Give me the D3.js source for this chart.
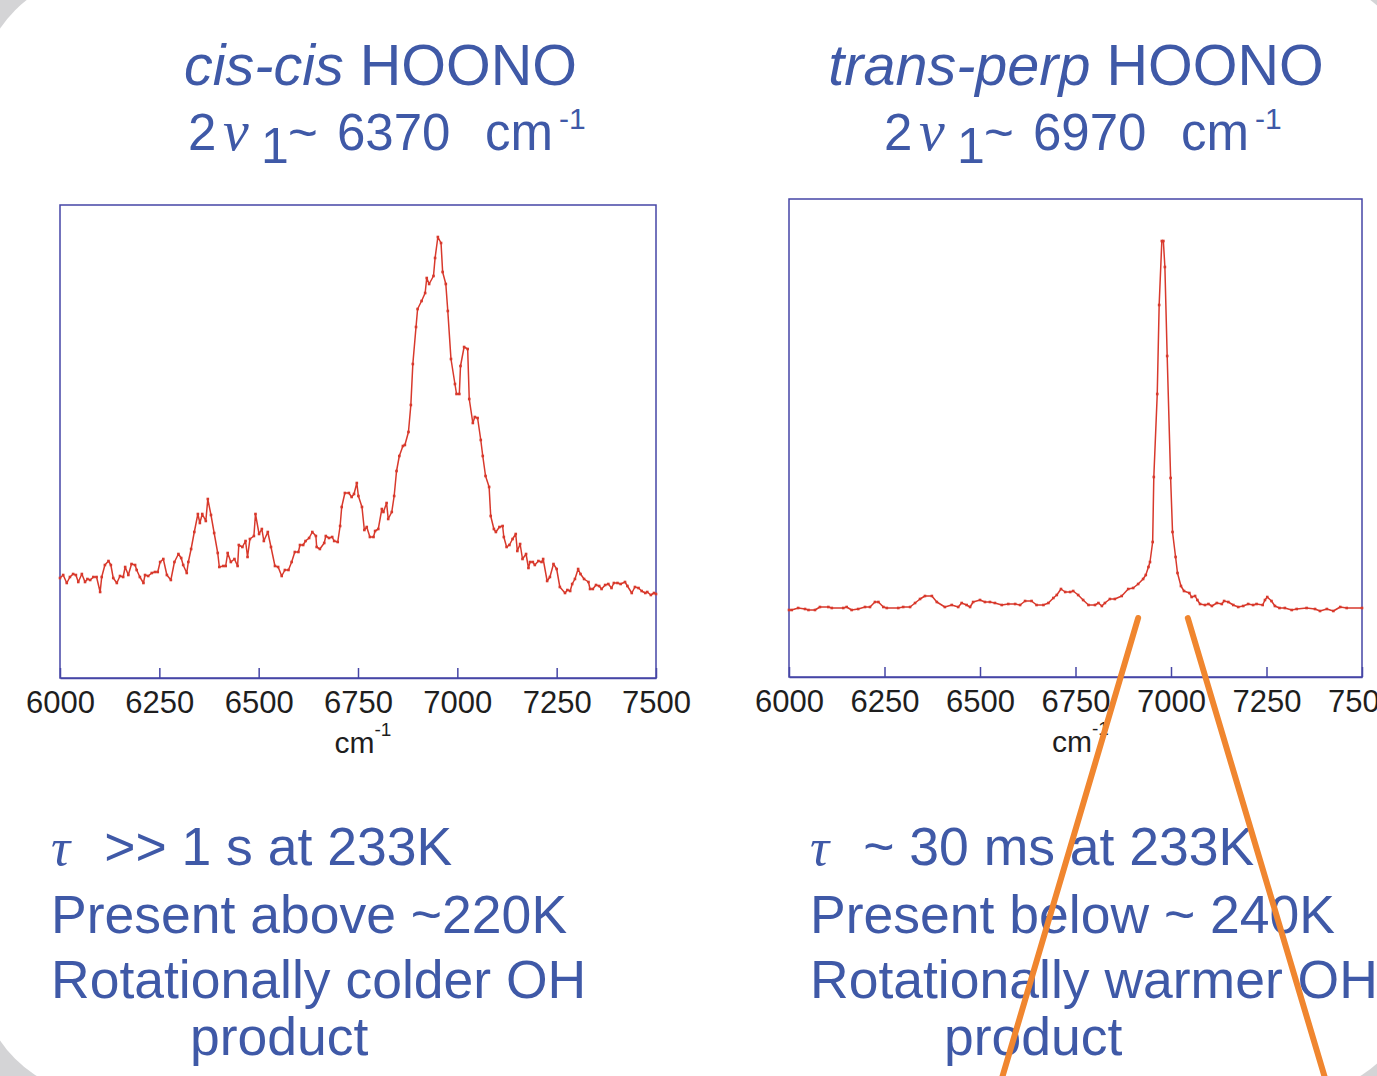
<!DOCTYPE html>
<html>
<head>
<meta charset="utf-8">
<script src="https://cdn.jsdelivr.net/npm/d3@7"></script>
<style>
    html, body { margin: 0; padding: 0; background: #d4d4d6; overflow: hidden; }
    svg { display: block; }
</style>
</head>
<body>
<div id="slide"></div>
<script>
// cis-cis HOONO spectrum (cm-1, arbitrary intensity)
const cisWavenumber = [6000,6008,6017,6025,6033,6040,6046,6055,6063,6069,6076,6084,6092,6101,6105,6113,6122,6128,6134,6143,
    6151,6159,6164,6172,6180,6189,6193,6201,6210,6214,6222,6231,6239,6246,6252,6260,6269,6279,6288,6298,
    6305,6310,6319,6323,6330,6338,6347,6352,6358,6367,6372,6380,6388,6397,6401,6411,6417,6422,6430,6439,
    6447,6450,6459,6467,6472,6478,6488,6492,6501,6508,6513,6523,6531,6541,6549,6558,6566,6575,6583,6591,
    6600,6604,6612,6618,6627,6635,6644,6646,6654,6665,6669,6677,6685,6690,6699,6705,6709,6717,6727,6734,
    6740,6747,6751,6760,6766,6772,6780,6789,6793,6801,6810,6814,6822,6826,6835,6841,6847,6854,6863,6868,
    6877,6883,6888,6896,6900,6910,6919,6923,6929,6940,6944,6951,6959,6963,6971,6976,6984,6994,6998,7005,
    7008,7017,7026,7030,7039,7044,7051,7059,7064,7071,7080,7084,7092,7097,7106,7114,7117,7124,7131,7139,
    7147,7151,7158,7164,7173,7179,7183,7190,7195,7204,7212,7216,7226,7233,7242,7250,7258,7271,7277,7284,
    7289,7296,7304,7310,7319,7330,7334,7341,7349,7357,7363,7372,7380,7388,7394,7403,7411,7422,7428,7439,
    7447,7456,7464,7473,7478,7487,7495,7500];
const cisIntensity = [100,103,95,101,104,103,96,104,96,99,98,101,101,86,101,113,117,113,100,95,
    102,101,111,103,114,113,108,101,95,103,102,105,106,106,116,119,103,98,116,124,
    120,113,105,116,129,146,164,155,164,157,179,163,145,125,111,112,112,125,116,119,
    112,133,131,137,121,139,142,164,144,149,137,146,131,112,111,102,108,108,116,126,
    126,133,133,137,140,146,142,131,129,135,142,140,141,137,136,152,171,185,185,181,
    184,195,182,171,148,151,141,141,147,149,169,166,175,159,166,182,207,222,232,233,
    246,273,314,351,369,377,385,400,394,402,420,441,435,406,394,367,319,294,284,284,
    312,331,329,279,255,261,260,238,222,202,191,162,149,146,151,152,141,131,133,139,
    144,127,134,119,124,110,116,116,113,117,116,119,97,101,114,109,91,85,88,87,
    94,99,109,104,99,96,89,89,93,92,89,93,94,90,95,95,94,96,92,85,
    91,90,87,85,86,83,85,84];

// trans-perp HOONO spectrum
const transWavenumber = [6000,6007,6024,6042,6051,6068,6081,6103,6112,6142,6151,6164,6181,6199,6212,6225,6234,6247,6256,6286,
    6299,6317,6330,6343,6356,6374,6387,6408,6426,6443,6452,6465,6474,6482,6500,6513,6526,6539,6557,6574,
    6592,6605,6618,6635,6648,6666,6679,6692,6701,6712,6723,6736,6744,6757,6770,6784,6801,6810,6819,6827,
    6840,6853,6871,6888,6901,6914,6927,6934,6941,6945,6952,6955,6964,6969,6976,6980,6984,6990,6999,7004,
    7012,7017,7026,7034,7048,7054,7063,7069,7076,7089,7098,7107,7120,7133,7139,7150,7163,7176,7189,7202,
    7215,7224,7240,7246,7252,7263,7272,7284,7298,7316,7329,7355,7377,7390,7408,7425,7443,7460,7500];
const transIntensity = [67,67,69,68,67,67,70,70,69,69,70,67,68,70,70,75,75,70,69,69,
    70,70,74,78,81,81,75,70,72,70,74,72,70,75,77,75,75,74,72,73,
    73,72,76,76,72,72,74,79,82,88,85,85,86,82,77,72,72,74,71,74,
    78,78,81,88,89,93,98,102,110,115,135,200,283,372,436,436,410,321,199,145,
    120,104,91,86,84,80,81,77,73,72,73,71,74,73,76,75,72,70,71,73,
    72,73,72,77,80,76,71,69,69,67,68,69,68,66,68,66,70,69,69];

const xTicks = [6000, 6250, 6500, 6750, 7000, 7250, 7500];

const leftNotes = ["\u003e\u003e 1 s at 233K", "Present above ~220K", "Rotationally colder OH", "product"];
const rightNotes = ["~ 30 ms at 233K", "Present below ~ 240K", "Rotationally warmer OH", "product"];

const BLUE = "#3f59a7";
const SANS = "'Liberation Sans', Arial, Helvetica, sans-serif";
const SERIF = "'Liberation Serif', 'Times New Roman', serif";
const NARROW = "'Liberation Sans Narrow', 'Arial Narrow', 'Liberation Sans', sans-serif";

class SpectrumPanel
{
    constructor(svg, box, wavenumber, intensity, yMax) {
        this.svg = svg;
        this.box = box;
        this.data = d3.zip(wavenumber, intensity).map(d => ({wn: d[0], val: d[1]}));
        this.yMax = yMax;
        this.initVis();
    }

    initVis() {
        let vis = this;
        let b = vis.box;

        vis.x = d3.scaleLinear().domain([6000, 7500]).range([b.left, b.right]);
        vis.y = d3.scaleLinear().domain([0, vis.yMax]).range([b.bottom, b.top]);

        vis.g = vis.svg.append("g");

        // frame
        vis.g.append("rect")
            .attr("x", b.left).attr("y", b.top)
            .attr("width", b.right - b.left).attr("height", b.bottom - b.top)
            .attr("fill", "none")
            .attr("stroke", "#4646a6")
            .attr("stroke-width", 1.5);

        // bottom axis, ticks pointing inward
        let axis = d3.axisBottom(vis.x)
            .tickValues(xTicks)
            .tickFormat(d3.format("d"))
            .tickSize(-10)
            .tickSizeOuter(0)
            .tickPadding(13);

        let ax = vis.g.append("g")
            .attr("transform", `translate(0, ${b.bottom})`)
            .call(axis);
        ax.select(".domain").attr("stroke", "#4646a6").attr("stroke-width", 1.5);
        ax.selectAll(".tick line").attr("stroke", "#4646a6").attr("stroke-width", 1.5);
        ax.selectAll(".tick text")
            .attr("fill", "#1e1e1e")
            .style("font-family", NARROW)
            .style("font-size", "31px");

        // axis title cm-1
        let lbl = vis.g.append("text")
            .attr("x", (b.left + b.right) / 2 + 5)
            .attr("y", b.bottom + 75)
            .attr("text-anchor", "middle")
            .attr("fill", "#1e1e1e")
            .style("font-family", NARROW)
            .style("font-size", "30px");
        lbl.append("tspan").text("cm");
        lbl.append("tspan").attr("dy", -17).style("font-size", "19px").text("-1");

        vis.updateVis();
    }

    updateVis() {
        let vis = this;

        let line = d3.line()
            .x(d => vis.x(d.wn))
            .y(d => vis.y(d.val));

        vis.g.append("path")
            .datum(vis.data)
            .attr("d", line)
            .attr("fill", "none")
            .attr("stroke", "#d8392c")
            .attr("stroke-width", 1.5)
            .attr("stroke-linejoin", "round");

        vis.g.selectAll(".pt")
            .data(vis.data)
            .enter()
            .append("rect")
            .attr("class", "pt")
            .attr("x", d => vis.x(d.wn) - 1.3)
            .attr("y", d => vis.y(d.val) - 1.3)
            .attr("width", 2.6)
            .attr("height", 2.6)
            .attr("fill", "#d8392c");
    }
}

const W = 1377, H = 1076;
const svg = d3.select("#slide").append("svg")
    .attr("width", W)
    .attr("height", H);

svg.append("rect").attr("width", W).attr("height", H).attr("fill", "#d4d4d6");
svg.append("rect")
    .attr("x", -20).attr("y", -25)
    .attr("width", W + 60).attr("height", H + 43)
    .attr("rx", 120).attr("ry", 120)
    .attr("fill", "#ffffff");

// titles
function title(cx, italicPart, freq, x2) {
    let t1 = svg.append("text")
        .attr("x", cx).attr("y", 85)
        .attr("text-anchor", "middle")
        .attr("fill", BLUE)
        .style("font-family", SANS)
        .style("font-size", "57.5px");
    t1.append("tspan").style("font-style", "italic").text(italicPart);
    t1.append("tspan").text(" HOONO");

    // 2 nu_1 ~ freq cm-1, each piece placed from the line start
    let t2 = svg.append("text")
        .attr("y", 150)
        .attr("fill", BLUE)
        .style("font-family", SANS)
        .style("font-size", "51px");
    t2.append("tspan").attr("x", x2).text("2");
    t2.append("tspan").attr("x", x2 + 35)
        .style("font-family", SERIF).style("font-style", "italic").style("font-size", "58px")
        .text("\u03bd");
    t2.append("tspan").attr("x", x2 + 73).attr("y", 163).style("font-size", "50px").text("1");
    t2.append("tspan").attr("x", x2 + 100).attr("y", 150).text("~");
    t2.append("tspan").attr("x", x2 + 149).text(freq);
    t2.append("tspan").attr("x", x2 + 297).text("cm");
    t2.append("tspan").attr("x", x2 + 371).attr("y", 129).style("font-size", "30px").text("-1");
}

title(380.5, "cis-cis", "6370", 188);
title(1076, "trans-perp", "6970", 884);

const cisPanel = new SpectrumPanel(svg, {left: 60, right: 656, top: 205, bottom: 678},
    cisWavenumber, cisIntensity, 473);
const transPanel = new SpectrumPanel(svg, {left: 789, right: 1362, top: 199, bottom: 677},
    transWavenumber, transIntensity, 478);

// notes under the plots
function notes(x, lines, productX) {
    let baselines = [865, 933, 998, 1055];
    lines.forEach((s, i) => {
        let t = svg.append("text")
            .attr("x", i === 3 ? productX : x)
            .attr("y", baselines[i])
            .attr("fill", BLUE)
            .style("font-family", SANS)
            .style("font-size", "53.5px");
        if (i === 0) {
            t.append("tspan")
                .style("font-family", SERIF).style("font-style", "italic")
                .text("\u03c4");
            t.append("tspan").attr("dx", 34).text(s);
        } else {
            t.text(s);
        }
    });
}

notes(51, leftNotes, 190);
notes(810, rightNotes, 944);

// orange pointer lines from the peak region
const pointers = [{wn: 6914, bottomX: 1002}, {wn: 7044, bottomX: 1325}];
svg.selectAll(".pointer")
    .data(pointers)
    .enter()
    .append("line")
    .attr("class", "pointer")
    .attr("x1", d => transPanel.x(d.wn))
    .attr("y1", transPanel.y(59))
    .attr("x2", d => d.bottomX)
    .attr("y2", H + 2)
    .attr("stroke", "#f0862f")
    .attr("stroke-width", 6)
    .attr("stroke-linecap", "round");
</script>
</body>
</html>
